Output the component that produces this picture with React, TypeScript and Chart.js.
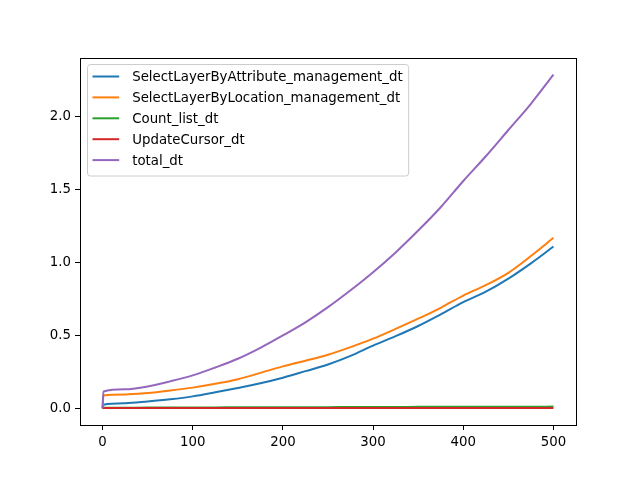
import { useEffect, useRef } from "react";
import { Chart, registerables } from "chart.js";

Chart.register(...registerables);

// x positions (iteration index) at which values were read
const xValues = [0, 1, 25, 50, 75, 100, 125, 150, 175, 200, 225, 250, 275, 300, 325, 350, 375, 400, 425, 450, 475, 500];

const selectByAttribute = [0, 0.025, 0.035, 0.047, 0.062, 0.082, 0.11, 0.14, 0.172, 0.21, 0.255, 0.301, 0.36, 0.43, 0.495, 0.565, 0.645, 0.728, 0.8, 0.89, 0.995, 1.11];
const selectByLocation = [0, 0.088, 0.095, 0.105, 0.122, 0.142, 0.168, 0.2, 0.243, 0.288, 0.327, 0.368, 0.42, 0.478, 0.545, 0.615, 0.69, 0.774, 0.845, 0.93, 1.045, 1.17];
const countList = [0, 0.004, 0.004, 0.005, 0.005, 0.006, 0.006, 0.007, 0.007, 0.008, 0.008, 0.008, 0.009, 0.009, 0.009, 0.01, 0.01, 0.01, 0.011, 0.011, 0.011, 0.012];
const updateCursor = [0, 0.002, 0.002, 0.002, 0.002, 0.002, 0.002, 0.002, 0.002, 0.002, 0.002, 0.002, 0.003, 0.003, 0.003, 0.003, 0.003, 0.003, 0.003, 0.003, 0.003, 0.003];
const total = [0, 0.115, 0.13, 0.15, 0.185, 0.226, 0.28, 0.34, 0.415, 0.5, 0.59, 0.694, 0.81, 0.934, 1.07, 1.22, 1.38, 1.56, 1.73, 1.91, 2.09, 2.29];

const seriesLabels = [
  "SelectLayerByAttribute_management_dt",
  "SelectLayerByLocation_management_dt",
  "Count_list_dt",
  "UpdateCursor_dt",
  "total_dt",
];
const seriesValues = [selectByAttribute, selectByLocation, countList, updateCursor, total];
const seriesColors = ["#1f77b4", "#ff7f0e", "#2ca02c", "#d62728", "#9467bd"];

const xTickStep = 100;
const yTickStep = 0.5;

const FONT = "DejaVu Sans";
const FONT_SIZE = 13.33;

export default function App() {
  const ref = useRef<HTMLCanvasElement>(null);

  useEffect(() => {
    document.body.style.margin = "0";
    const canvas = ref.current;
    if (!canvas) return;

    const framePlugin = {
      id: "frame",
      afterDatasetsDraw(chart: any) {
        const { ctx, chartArea: a } = chart;
        ctx.save();
        ctx.strokeStyle = "#000";
        ctx.lineWidth = 1;
        ctx.strokeRect(Math.round(a.left) + 0.5, Math.round(a.top) + 0.5, Math.round(a.right - a.left), Math.round(a.bottom - a.top));
        ctx.restore();
      },
    };

    const legendPlugin = {
      id: "mplLegend",
      afterDraw(chart: any) {
        const { ctx, chartArea: a } = chart;
        const boxX = a.left + 7.5;
        const boxY = a.top + 6.5;
        const rowH = 20.9;
        const handleLen = 26.7;
        ctx.save();
        ctx.font = `${FONT_SIZE}px "${FONT}"`;
        let maxW = 0;
        seriesLabels.forEach((l) => {
          maxW = Math.max(maxW, ctx.measureText(l).width);
        });
        const boxW = 5 + handleLen + 12 + maxW + 7;
        const boxH = 7 + rowH * seriesLabels.length;
        const r = 3;
        ctx.beginPath();
        ctx.moveTo(boxX + r, boxY);
        ctx.lineTo(boxX + boxW - r, boxY);
        ctx.arcTo(boxX + boxW, boxY, boxX + boxW, boxY + r, r);
        ctx.lineTo(boxX + boxW, boxY + boxH - r);
        ctx.arcTo(boxX + boxW, boxY + boxH, boxX + boxW - r, boxY + boxH, r);
        ctx.lineTo(boxX + r, boxY + boxH);
        ctx.arcTo(boxX, boxY + boxH, boxX, boxY + boxH - r, r);
        ctx.lineTo(boxX, boxY + r);
        ctx.arcTo(boxX, boxY, boxX + r, boxY, r);
        ctx.closePath();
        ctx.fillStyle = "rgba(255,255,255,0.8)";
        ctx.fill();
        ctx.strokeStyle = "#cccccc";
        ctx.lineWidth = 1;
        ctx.stroke();

        seriesLabels.forEach((label, i) => {
          const cy = boxY + 12 + i * rowH;
          ctx.beginPath();
          ctx.moveTo(boxX + 5, cy);
          ctx.lineTo(boxX + 5 + handleLen, cy);
          ctx.strokeStyle = seriesColors[i];
          ctx.lineWidth = 2;
          ctx.stroke();
          ctx.fillStyle = "#000";
          ctx.textBaseline = "middle";
          ctx.textAlign = "left";
          ctx.fillText(label, boxX + 5 + handleLen + 13, cy + 1);
        });
        ctx.restore();
      },
    };

    const datasets = seriesValues.map((vals, i) => ({
      label: seriesLabels[i],
      data: xValues.map((x, j) => ({ x, y: vals[j] })),
      borderColor: seriesColors[i],
      backgroundColor: seriesColors[i],
      borderWidth: 2,
      pointRadius: 0,
      cubicInterpolationMode: "monotone" as const,
      fill: false,
      order: seriesLabels.length - i,
    }));

    const chart = new Chart(canvas, {
      type: "line",
      data: { datasets },
      options: {
        animation: false,
        responsive: false,
        devicePixelRatio: 1,
        layout: { padding: { top: 58, right: 64, left: 0, bottom: 0 } },
        plugins: {
          legend: { display: false },
          tooltip: { enabled: false },
        },
        scales: {
          x: {
            type: "linear",
            min: -25,
            max: 525,
            afterFit: (s: any) => {
              s.height = 53;
            },
            ticks: {
              stepSize: xTickStep,
              includeBounds: false,
              color: "#000",
              padding: 5,
              maxRotation: 0,
              font: { family: FONT, size: FONT_SIZE },
              callback: (v: any) => String(v),
            },
            grid: {
              drawOnChartArea: false,
              drawTicks: true,
              tickLength: 5,
              tickColor: "#000",
              tickWidth: 1,
            },
            border: { display: true, color: "#000", width: 1 },
          },
          y: {
            type: "linear",
            min: -0.1145,
            max: 2.404,
            afterFit: (s: any) => {
              s.width = 80;
            },
            ticks: {
              stepSize: yTickStep,
              includeBounds: false,
              color: "#000",
              padding: 4,
              font: { family: FONT, size: FONT_SIZE },
              callback: (v: any) => Number(v).toFixed(1),
            },
            grid: {
              drawOnChartArea: false,
              drawTicks: true,
              tickLength: 5,
              tickColor: "#000",
              tickWidth: 1,
            },
            border: { display: true, color: "#000", width: 1 },
          },
        },
      },
      plugins: [framePlugin, legendPlugin],
    });

    return () => chart.destroy();
  }, []);

  return (
    <div style={{ position: "absolute", left: 0, top: 0, width: 640, height: 478, background: "#fff" }}>
      <canvas ref={ref} width={640} height={478} style={{ display: "block", width: 640, height: 478 }} />
    </div>
  );
}
